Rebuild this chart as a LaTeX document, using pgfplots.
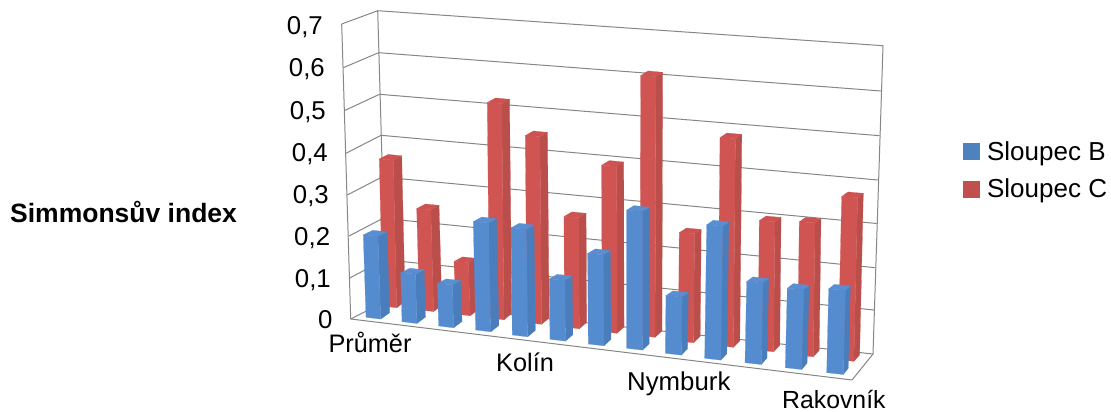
\documentclass[border=0pt]{standalone}
\usepackage{pgfplots}
\pgfplotsset{compat=1.18}
\usepackage{fontspec}
\setmainfont{Liberation Sans}
\definecolor{bF}{HTML}{558BCF}
\definecolor{bS}{HTML}{4A7DBB}
\definecolor{bT}{HTML}{5A8ED0}
\definecolor{rF}{HTML}{D05452}
\definecolor{rS}{HTML}{B94E4B}
\definecolor{rT}{HTML}{CC5351}
\definecolor{legB}{HTML}{4F81BD}
\definecolor{legR}{HTML}{C0504D}
\definecolor{frameC}{HTML}{868686}
% one bar: #1 index, #2 x front-left at the floor, #3 y at the floor, #4 x front-left at the top, #5 value
\newcommand{\drawbar}[5]{%
  \pgfmathsetmacro{\myYT}{#3-\myK*#5}%
  \pgfmathsetmacro{\myW}{\myWa+(#1-1)*0.16}%
  \pgfmathsetmacro{\myDX}{\myDa-(#1-1)*\myDb}%
  \pgfmathsetmacro{\myXTR}{#4+\myW}%
  \pgfmathsetmacro{\myXBR}{#2+\myW}%
  \pgfmathsetmacro{\myYTR}{\myYT+\mySl}%
  \pgfmathsetmacro{\myYBR}{#3+1.8}%
  \pgfmathsetmacro{\myXSt}{\myXTR+\myDX}%
  \pgfmathsetmacro{\myYSt}{\myYTR-4.2}%
  \pgfmathsetmacro{\myXSb}{\myXBR+\myDX}%
  \pgfmathsetmacro{\myYSb}{\myYBR-6.4}%
  \pgfmathsetmacro{\myXBk}{#4+\myDX+0.6}%
  \pgfmathsetmacro{\myYBk}{\myYT-4.6}%
  \edef\doplot{\noexpand\addplot[forget plot,fill=\cS,draw=\cS,line width=0.2pt] coordinates {(\myXTR,\myYTR)(\myXSt,\myYSt)(\myXSb,\myYSb)(\myXBR,\myYBR)} -- cycle;
    \noexpand\addplot[forget plot,fill=\cT,draw=\cT,line width=0.2pt] coordinates {(#4,\myYT)(\myXBk,\myYBk)(\myXSt,\myYSt)(\myXTR,\myYTR)} -- cycle;
    \noexpand\addplot[forget plot,fill=\cF,draw=\cF,line width=0.2pt] coordinates {(#2,#3)(#4,\myYT)(\myXTR,\myYTR)(\myXBR,\myYBR)} -- cycle;}%
  \doplot}
\newcommand{\frameline}[4]{\addplot[forget plot,color=frameC,line width=1pt] coordinates {(#1,#2)(#3,#4)};}
\newcommand{\txt}{\fontsize{25.8}{30}\selectfont}
\begin{document}
\begin{tikzpicture}
\begin{axis}[
  at={(0,0)},anchor=south west,
  scale only axis,width=1111pt,height=412pt,
  xmin=0,xmax=1111,ymin=0,ymax=412,y dir=reverse,
  hide axis,clip=false,
  legend style={at={(axis cs:962.7,139.5)},anchor=north west,draw=none,fill=none,inner sep=0pt,outer sep=0pt,
    font=\fontsize{26}{30}\selectfont,row sep=13pt,/tikz/every even column/.append style={column sep=0pt}},
  legend cell align=left,
]
% back wall grid
\frameline{377.7}{10.7}{883}{45.7}
\frameline{378.6}{52.7}{881}{91}
\frameline{379.5}{94.3}{879.5}{135.7}
\frameline{381}{135.3}{878}{180}
\frameline{382}{177}{876.7}{223.5}
\frameline{383}{218.3}{875.3}{267.7}
\frameline{384.5}{259.7}{874}{310}
\frameline{386}{301}{873}{354}
% side wall grid
\frameline{341.7}{24}{377.7}{10.7}
\frameline{343.3}{67.7}{378.6}{52.7}
\frameline{344.3}{110.7}{379.5}{94.3}
\frameline{346}{153.3}{381}{135.3}
\frameline{347.3}{195}{382}{177}
\frameline{349}{236}{383}{218.3}
\frameline{349.7}{278}{384.5}{259.7}
\frameline{350.7}{319}{386}{301}
% edges
\frameline{377.7}{10.7}{386}{301}
\frameline{341.7}{24}{350.7}{319}
\frameline{883}{45.7}{873}{354}
\frameline{350.7}{319}{852}{380}
\frameline{852}{380}{873}{354}
% Sloupec C
\def\cF{rF}\def\cS{rS}\def\cT{rT}\def\myK{420}\def\myWa{14}\def\myDa{8.4}\def\myDb{0.225}\def\mySl{1}
\drawbar{1}{382.7}{306}{379.3}{0.350}
\drawbar{2}{419.5}{309.8}{416.7}{0.241}
\drawbar{3}{456}{314}{454}{0.125}
\drawbar{4}{489.5}{318}{487.3}{0.513}
\drawbar{5}{527}{322.5}{525.3}{0.445}
\drawbar{6}{564.5}{327}{564}{0.263}
\drawbar{7}{602}{331.5}{601.7}{0.396}
\drawbar{8}{640}{335.5}{640.7}{0.619}
\drawbar{9}{678.3}{341}{679.3}{0.258}
\drawbar{10}{718}{345.5}{720}{0.495}
\drawbar{11}{758}{350}{759.3}{0.308}
\drawbar{12}{797.5}{355}{799.3}{0.317}
\drawbar{13}{838}{359.5}{841.7}{0.388}
% Sloupec B
\def\cF{bF}\def\cS{bS}\def\cT{bT}\def\myK{425}\def\myWa{14.7}\def\myDa{9}\def\myDb{0.333}\def\mySl{1.3}
\drawbar{1}{366}{317.3}{363.3}{0.194}
\drawbar{2}{402}{321.7}{400.7}{0.115}
\drawbar{3}{438.7}{326}{437.3}{0.100}
\drawbar{4}{475.7}{330}{473.3}{0.255}
\drawbar{5}{512.3}{335}{511}{0.252}
\drawbar{6}{550}{339.3}{549.3}{0.142}
\drawbar{7}{588.3}{344}{587.7}{0.213}
\drawbar{8}{626.7}{348.3}{626.7}{0.325}
\drawbar{9}{665.3}{353.3}{666}{0.136}
\drawbar{10}{704.7}{358.3}{706.7}{0.314}
\drawbar{11}{745}{362.7}{746.7}{0.191}
\drawbar{12}{785.3}{367.7}{787.3}{0.187}
\drawbar{13}{826.7}{372.7}{828.7}{0.197}
% legend
\addlegendimage{legend image code/.code={\fill[legB] (0pt,-8pt) rectangle (16pt,8pt);}}
\addlegendentry{\hspace{6pt}Sloupec B}
\addlegendimage{legend image code/.code={\fill[legR] (0pt,-8pt) rectangle (16pt,8pt);}}
\addlegendentry{\hspace{6pt}Sloupec C}
% value labels
\node[anchor=base east,inner sep=0pt,font=\txt] at (axis cs:323,35) {0,7};
\node[anchor=base east,inner sep=0pt,font=\txt] at (axis cs:325,77) {0,6};
\node[anchor=base east,inner sep=0pt,font=\txt] at (axis cs:326,119) {0,5};
\node[anchor=base east,inner sep=0pt,font=\txt] at (axis cs:328,161.3) {0,4};
\node[anchor=base east,inner sep=0pt,font=\txt] at (axis cs:329,203) {0,3};
\node[anchor=base east,inner sep=0pt,font=\txt] at (axis cs:330.3,245) {0,2};
\node[anchor=base east,inner sep=0pt,font=\txt] at (axis cs:331,287) {0,1};
\node[anchor=base east,inner sep=0pt,font=\txt] at (axis cs:332.7,328) {0};
\node[anchor=base west,inner sep=0pt,font=\fontsize{25.3}{30}\selectfont] at (axis cs:328.3,352.3) {Průměr};
\node[anchor=base west,inner sep=0pt,font=\fontsize{25.3}{30}\selectfont] at (axis cs:496,371.7) {Kolín};
\node[anchor=base west,inner sep=0pt,font=\txt] at (axis cs:627,390) {Nymburk};
\node[anchor=base west,inner sep=0pt,font=\fontsize{24.8}{30}\selectfont] at (axis cs:782,408) {Rakovník};
\node[anchor=base west,inner sep=0pt,font=\fontsize{26.5}{30}\selectfont\bfseries] at (axis cs:10,222) {Simmonsův index};
\end{axis}
\path[use as bounding box] (0,0) rectangle (1111pt,412pt);
\end{tikzpicture}
\end{document}
